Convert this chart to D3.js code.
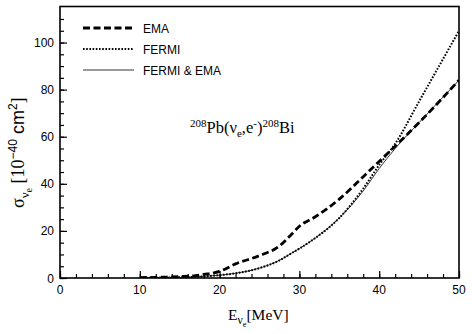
<!DOCTYPE html>
<html><head><meta charset="utf-8">
<script src="https://cdn.jsdelivr.net/npm/d3@7"></script>
<style>body{margin:0;background:#fff}</style>
</head><body>
<svg id="c" width="472" height="334"></svg>
<script>
const energy      = [10, 15, 17, 18, 20, 22, 25, 27.5, 29, 30, 32, 35, 38, 40, 42, 45, 50];
const emaValues   = [0.2, 0.6, 1.0, 1.5, 2.8, 6.0, 9.5, 13.6, 18.5, 22, 26, 33.5, 43, 49.5, 56, 66, 84];
const fermiValues = [0.1, 0.3, 0.5, 0.7, 1.2, 2.0, 4.2, 7.5, 10.5, 12.5, 17, 25.5, 38, 48, 57, 75, 105];
const bothValues  = [0.1, 0.3, 0.5, 0.7, 1.2, 2.0, 4.2, 7.5, 10.5, 12.5, 17, 25.5, 37, 46.5, 55, 66, 84];
const xTicks = [0, 10, 20, 30, 40, 50];
const yTicks = [0, 20, 40, 60, 80, 100];
const legendLabels = ["EMA", "FERMI", "FERMI & EMA"];

const svg = d3.select("#c");
const L = 60, R = 459, T = 6.5, B = 278;
const x = d3.scaleLinear().domain([0, 50]).range([L, R]);
const y = d3.scaleLinear().domain([0, 115.3]).range([B, T]);

const styles = [
  {w: 2.8, dash: "7,3.5"},
  {w: 2.0, dash: "1.6,1.6"},
  {w: 0.8, dash: null}
];
const series = [emaValues, fermiValues, bothValues];

svg.append("clipPath").attr("id","cp").append("rect")
  .attr("x", L).attr("y", T).attr("width", R-L).attr("height", B-T);

const line = d3.line().x((d,i)=>x(energy[i])).y(d=>y(d)).curve(d3.curveMonotoneX);
series.forEach((s,k)=>{
  svg.append("path").datum(s).attr("d", line).attr("fill","none")
    .attr("stroke","#000").attr("stroke-width", styles[k].w)
    .attr("stroke-dasharray", styles[k].dash).attr("clip-path","url(#cp)");
});

const xAxis = d3.axisTop(x).tickValues(xTicks).tickSize(7).tickFormat("");
const xMinor = d3.axisTop(x).tickValues(d3.range(0, 51, 2)).tickSize(4).tickFormat("");
const yAxis = d3.axisRight(y).tickValues(yTicks).tickSize(7).tickFormat("");
const yMinor = d3.axisRight(y).tickValues(d3.range(0, 115, 5)).tickSize(4).tickFormat("");
[xAxis, xMinor].forEach(a=>{
  const g = svg.append("g").attr("transform",`translate(0,${B})`).call(a);
  g.select(".domain").remove();
  g.selectAll("line").attr("stroke","#000").attr("stroke-width",1.2);
});
[yAxis, yMinor].forEach(a=>{
  const g = svg.append("g").attr("transform",`translate(${L},0)`).call(a);
  g.select(".domain").remove();
  g.selectAll("line").attr("stroke","#000").attr("stroke-width",1.2);
});

svg.append("rect").attr("x", L).attr("y", T).attr("width", R-L).attr("height", B-T)
  .attr("fill","none").attr("stroke","#000").attr("stroke-width",1.6);

const sans = "'Liberation Sans', Arial, sans-serif";
const serif = "'Liberation Serif', 'Times New Roman', serif";

svg.append("g").selectAll("text").data(xTicks).join("text")
  .attr("x", d=>x(d)).attr("y", B+16).attr("text-anchor","middle")
  .attr("font-family", sans).attr("font-size", 12).text(d=>d);
svg.append("g").selectAll("text").data(yTicks).join("text")
  .attr("x", L-6).attr("y", d=>y(d)+4.5).attr("text-anchor","end")
  .attr("font-family", sans).attr("font-size", 12).text(d=>d);

legendLabels.forEach((t,k)=>{
  const ly = 28 + k*21;
  svg.append("line").attr("x1", 83).attr("x2", 134).attr("y1", ly).attr("y2", ly)
    .attr("stroke","#000").attr("stroke-width", styles[k].w)
    .attr("stroke-dasharray", styles[k].dash);
  svg.append("text").attr("x", 143).attr("y", ly+4.5).attr("font-family", sans)
    .attr("font-size", 12).text(t);
});

const ann = svg.append("text").attr("x", 190).attr("y", 133).attr("font-family", serif).attr("font-size", 16.5);
ann.append("tspan").attr("font-size", 11).attr("dy", -6).text("208");
ann.append("tspan").attr("dy", 6).text("Pb(ν");
ann.append("tspan").attr("font-size", 11).attr("dy", 4).text("e");
ann.append("tspan").attr("dy", -4).text(",e");
ann.append("tspan").attr("font-size", 11).attr("dy", -6).text("-");
ann.append("tspan").attr("dy", 6).text(")");
ann.append("tspan").attr("font-size", 11).attr("dy", -6).text("208");
ann.append("tspan").attr("dy", 6).text("Bi");

const xl = svg.append("text").attr("x", 228).attr("y", 320).attr("font-family", serif).attr("font-size", 15.5);
xl.append("tspan").text("E");
xl.append("tspan").attr("font-size", 11.5).attr("dy", 4).text("ν");
xl.append("tspan").attr("font-size", 8.5).attr("dy", 3).text("e");
xl.append("tspan").attr("dy", -7).text("[MeV]");

const yl = svg.append("text").attr("transform","translate(24,208) rotate(-90)")
  .attr("font-family", serif).attr("font-size", 18);
yl.append("tspan").text("σ");
yl.append("tspan").attr("font-size", 13).attr("dy", 5).text("ν");
yl.append("tspan").attr("font-size", 10).attr("dy", 3).text("e");
yl.append("tspan").attr("dy", -8).text(" [10");
yl.append("tspan").attr("font-size", 12).attr("dy", -7).attr("font-family", sans).text("−40");
yl.append("tspan").attr("dy", 7).attr("font-family", sans).text(" cm");
yl.append("tspan").attr("font-size", 12).attr("dy", -7).attr("font-family", sans).text("2");
yl.append("tspan").attr("dy", 7).text("]");
</script>
</body></html>
